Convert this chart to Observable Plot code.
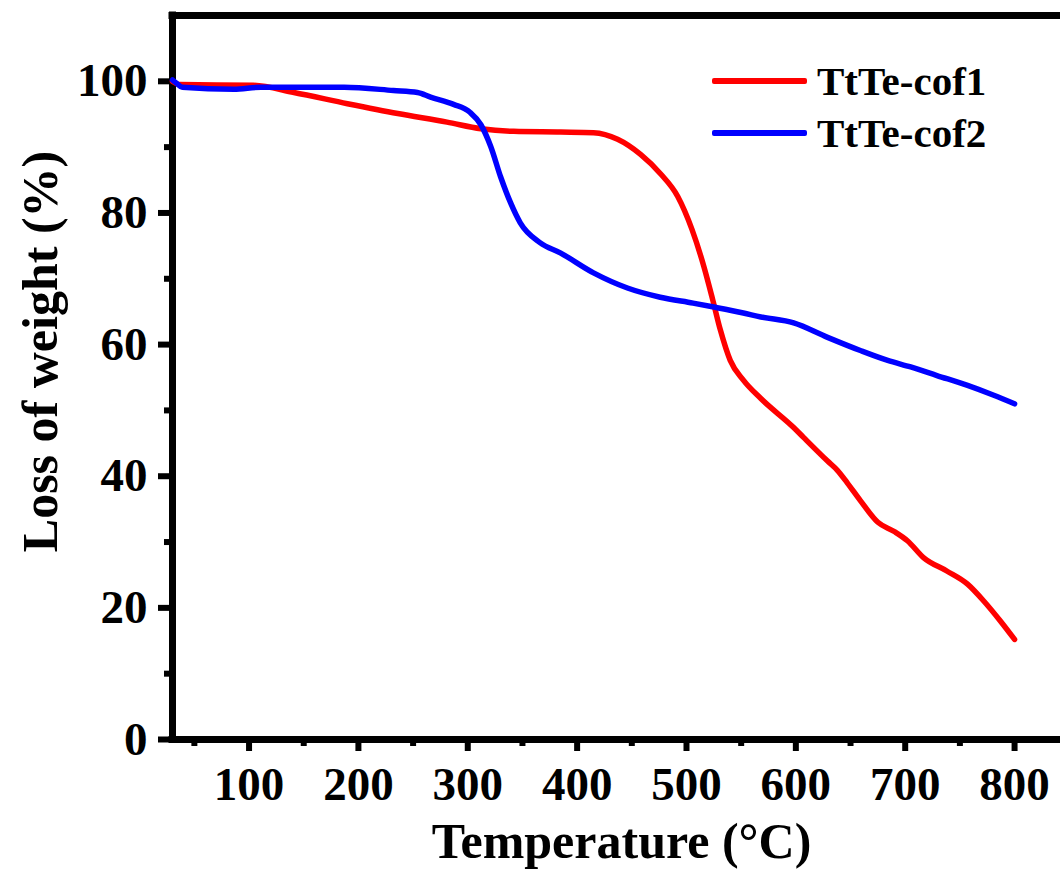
<!DOCTYPE html>
<html><head><meta charset="utf-8">
<script src="https://cdn.jsdelivr.net/npm/d3@7"></script>
<script src="https://cdn.jsdelivr.net/npm/@observablehq/plot@0.6"></script>
<style>
html,body{margin:0;padding:0;background:#fff;}
#wrap{position:relative;width:1060px;height:877px;overflow:hidden;font-family:"Liberation Serif","Times New Roman",serif;font-weight:bold;}
#legend{position:absolute;left:712px;top:55px;}
.item{display:flex;align-items:center;height:52px;font-size:41px;color:#000;white-space:nowrap;}
.sw{width:95px;height:6px;margin-right:10px;border-radius:2px;}
</style></head><body><div id="wrap"><div id="chart"></div><div id="legend"></div></div>
<script>
const seriesNames = ["TtTe-cof1", "TtTe-cof2"];
const seriesColors = ["#ff0000", "#0000ff"];

const tempCof1 = [30, 37, 104, 141, 190, 236, 281, 312, 342, 385, 415, 437, 458, 476, 492, 505, 516, 524, 531, 540, 552, 568, 598, 607, 629, 638, 647, 659, 675, 690, 702, 717, 738, 757, 772, 787, 800];
const weightCof1 = [100, 99.5, 99.4, 98.3, 96.6, 95.1, 93.8, 92.8, 92.4, 92.3, 92.2, 91.2, 88.9, 86.0, 82.5, 77.5, 71.8, 66.8, 62.2, 57.6, 54.6, 51.8, 47.4, 45.9, 42.3, 40.9, 39.0, 36.3, 33.0, 31.6, 30.2, 27.6, 25.6, 23.6, 21.0, 18.0, 15.2];

const tempCof2 = [30, 33, 39, 86, 111, 187, 232, 254, 266, 287, 302, 312, 321, 330, 339, 348, 366, 385, 415, 446, 476, 506, 525, 552, 568, 598, 629, 659, 684, 705, 729, 757, 781, 800];
const weightCof2 = [100.2, 99.8, 99.1, 98.8, 99.1, 99.1, 98.6, 98.3, 97.6, 96.5, 95.3, 93.4, 90.1, 85.5, 81.6, 78.5, 75.5, 73.9, 70.9, 68.6, 67.2, 66.3, 65.7, 64.8, 64.2, 63.3, 61.1, 59.1, 57.6, 56.6, 55.3, 53.8, 52.3, 51.0];

const xMajorTicks = [100, 200, 300, 400, 500, 600, 700, 800];
const xMinorTicks = [50, 150, 250, 350, 450, 550, 650, 750];
const yMajorTicks = [0, 20, 40, 60, 80, 100];
const yMinorTicks = [10, 30, 50, 70, 90];

const xTitle = "Temperature (°C)";
const yTitle = "Loss of weight (%)";

const rows = [];
tempCof1.forEach((t, i) => rows.push({series: seriesNames[0], t, w: weightCof1[i]}));
tempCof2.forEach((t, i) => rows.push({series: seriesNames[1], t, w: weightCof2[i]}));

const frameW = 7;
const chart = Plot.plot({
  width: 1060, height: 877,
  marginLeft: 172, marginRight: 0, marginTop: 15, marginBottom: 138,
  x: {domain: [30, 842]},
  y: {domain: [0, 110]},
  color: {domain: seriesNames, range: seriesColors},
  style: {fontFamily: "'Liberation Serif', 'Times New Roman', serif", fontWeight: "bold", background: "white", color: "black", overflow: "visible"},
  marks: [
    Plot.axisX(xMajorTicks, {tickSize: 12, tickPadding: 15, fontSize: 47, strokeWidth: 6, label: null}),
    Plot.axisX(xMinorTicks, {tickSize: 7, tickFormat: () => "", strokeWidth: 6, label: null}),
    Plot.axisY(yMajorTicks, {tickSize: 14, tickPadding: 11, fontSize: 47, strokeWidth: 6, label: null}),
    Plot.axisY(yMinorTicks, {tickSize: 8, tickFormat: () => "", strokeWidth: 6, label: null}),
    Plot.ruleY([0], {strokeWidth: frameW, strokeLinecap: "square"}),
    Plot.ruleY([110], {strokeWidth: frameW, strokeLinecap: "square"}),
    Plot.ruleX([30], {strokeWidth: frameW, strokeLinecap: "square"}),
    Plot.line(rows, {x: "t", y: "w", z: "series", stroke: "series", strokeWidth: 5.5, curve: "monotone-x"}),
    Plot.text([xTitle], {text: d => d, frameAnchor: "bottom", textAnchor: "middle", lineAnchor: "bottom", dy: 118, dx: 5, fontSize: 50}),
    Plot.text([yTitle], {text: d => d, frameAnchor: "left", textAnchor: "middle", lineAnchor: "bottom", rotate: -90, dx: -116, dy: -26, fontSize: 50})
  ]
});
document.getElementById("chart").appendChild(chart);

const legend = document.getElementById("legend");
seriesNames.forEach((name, i) => {
  const item = document.createElement("div");
  item.className = "item";
  const sw = document.createElement("div");
  sw.className = "sw";
  sw.style.background = seriesColors[i];
  const label = document.createElement("span");
  label.textContent = name;
  item.appendChild(sw);
  item.appendChild(label);
  legend.appendChild(item);
});
</script>
</body></html>
